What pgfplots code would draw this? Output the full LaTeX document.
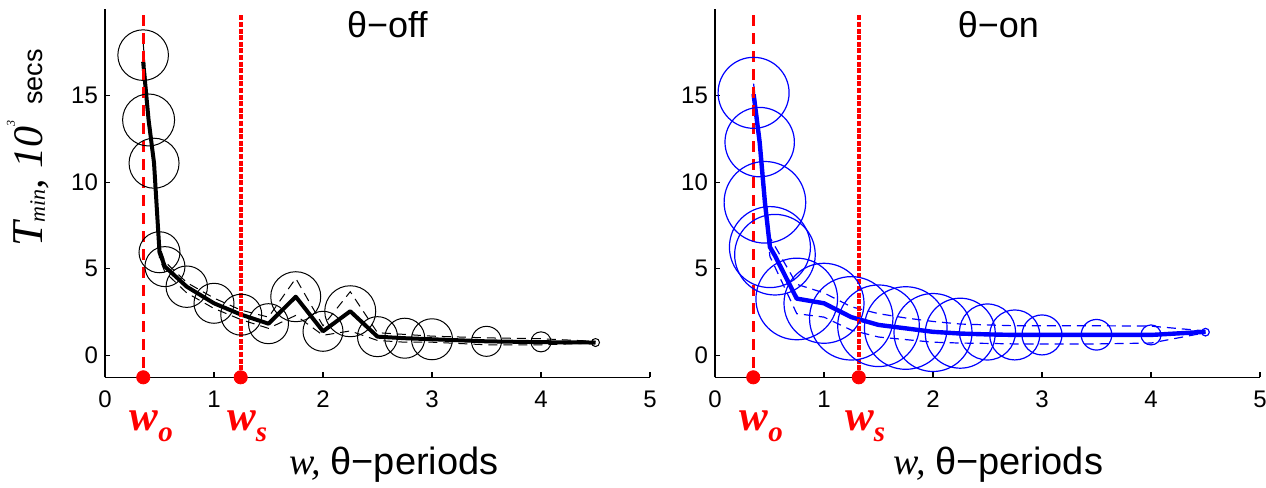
\documentclass[border=0pt]{standalone}
\usepackage{fontspec}
\setmainfont{Liberation Sans}
\newfontfamily\tnr{Liberation Serif}
\usepackage{pgfplots}
\pgfplotsset{compat=1.18}
\usepackage{pgfplotstable}

% theta-off: circle centres and radii (pt)
\pgfplotstableread{
x y r
0.35 17.35 12.65
0.40 13.60 13.0
0.45 11.10 12.5
0.50 5.95 10.25
0.55 5.12 10.0
0.75 3.96 10.35
1.00 3.00 10.0
1.25 2.34 10.25
1.50 1.82 10.0
1.75 3.38 12.5
2.00 1.38 10.0
2.25 2.54 12.75
2.50 1.07 10.0
2.75 0.98 10.0
3.00 0.92 10.25
3.50 0.80 7.5
4.00 0.77 5.0
4.50 0.73 2.0
}\offcirc
\pgfplotstableread{
x y up lo
0.35 16.97 18.1 16.5
0.40 13.60 14.0 13.2
0.45 11.10 11.5 10.7
0.50 5.95 6.3 5.6
0.55 5.12 5.4 4.8
0.75 3.96 4.2 3.6
1.00 3.00 3.3 2.7
1.25 2.34 2.6 2.05
1.50 1.82 2.2 1.55
1.75 3.38 4.44 2.3
2.00 1.38 1.7 1.15
2.25 2.54 3.67 1.4
2.50 1.07 1.3 0.85
2.75 0.98 1.2 0.75
3.00 0.92 1.1 0.75
3.50 0.80 1.0 0.6
4.00 0.75 0.95 0.6
4.50 0.73 0.8 0.7
}\offline
% theta-on
\pgfplotstableread{
x y r
0.354 15.17 17.75
0.41 12.32 17.35
0.458 8.84 20.4
0.504 6.25 20.25
0.55 5.81 20.15
0.75 3.25 20.4
1.00 3.00 20.0
1.25 2.13 20.85
1.50 1.70 20.4
1.75 1.57 20.65
2.00 1.31 19.5
2.25 1.27 17.5
2.50 1.34 14.0
2.75 1.17 12.5
3.00 1.17 10.0
3.50 1.18 7.65
4.00 1.17 5.0
4.50 1.33 1.9
}\oncirc
\pgfplotstableread{
x y up lo
0.354 15.10 15.7 14.6
0.41 12.30 12.8 11.8
0.458 8.84 9.3 8.4
0.504 6.25 6.8 5.7
0.55 5.75 6.3 5.1
0.75 3.27 4.1 2.4
1.00 3.00 3.6 2.2
1.25 2.20 2.8 1.45
1.50 1.75 2.4 1.05
1.75 1.55 2.15 0.9
2.00 1.35 1.95 0.75
2.25 1.25 1.8 0.7
2.50 1.20 1.75 0.68
2.75 1.17 1.7 0.65
3.00 1.17 1.7 0.65
3.50 1.17 1.7 0.65
4.00 1.17 1.68 0.7
4.50 1.35 1.4 1.3
}\online

\pgfplotsset{
  myaxis/.style={
    scale only axis, width=272.5pt, height=184pt,
    anchor=south west,
    xmin=0, xmax=5, ymin=-1.28, ymax=20,
    axis x line*=bottom, axis y line*=left,
    axis line style={-, line width=0.6pt},
    xtick={0,1,2,3,4,5}, ytick={0,5,10,15},
    tick align=inside, major tick length=2.5pt,
    tick style={line width=0.6pt, black},
    /pgf/number format/assume math mode=true,
    tick label style={font=\fontsize{12}{12}\selectfont},
    xticklabel style={yshift=-3.3pt},
    clip=false,
  },
  circ/.style={scatter, only marks, mark=o,
    scatter/use mapped color={draw=#1},
    visualization depends on={\thisrow{r}\as\rr},
    scatter/@pre marker code/.append style={/tikz/mark size=\rr pt}},
  wodash/.style={red, line width=1.5pt, dash pattern=on 5.5pt off 3.5pt},
  wsdot/.style={red, line width=1.9pt, dash pattern=on 2.5pt off 0.8pt},
}

\newcommand{\wlab}[1]{{\tnr\bfseries\itshape\fontsize{21.5}{21.5}\selectfont w\raisebox{-5.5pt}{\fontsize{14.5}{14.5}\selectfont #1}}}

\begin{document}
\begin{tikzpicture}
\useasboundingbox (0,0) rectangle (633pt,244pt);
% ---------------- theta-off
\begin{axis}[myaxis, at={(52.5pt,55.35pt)}]
\addplot[circ=black, line width=0.5pt] table[x=x,y=y]{\offcirc};
\addplot[black, line width=0.5pt, dash pattern=on 4.5pt off 3pt] table[x=x,y=up]{\offline};
\addplot[black, line width=0.5pt, dash pattern=on 4.5pt off 3pt] table[x=x,y=lo]{\offline};
\addplot[black, line width=2pt, line join=round] table[x=x,y=y]{\offline};
\addplot[wodash] coordinates {(0.351,19.65) (0.351,-1.28)};
\addplot[wsdot] coordinates {(1.245,19.65) (1.245,-1.28)};
\addplot[red, only marks, mark=*, mark size=3.3pt] coordinates {(0.351,-1.28) (1.245,-1.28)};
\node[anchor=base west, inner sep=0, xshift=-7pt, text=red] at (axis cs:0.351,-4.33) {\wlab{o}};
\node[anchor=base west, inner sep=0, xshift=-7pt, text=red] at (axis cs:1.245,-4.33) {\wlab{s}};
\node[anchor=base, inner sep=0] at (axis cs:2.65,-6.92) {{\tnr\itshape\fontsize{19}{19}\selectfont w, }{\fontsize{19}{19}\selectfont θ−periods}};
\node[inner sep=0] at (axis cs:2.59,19.14) {\fontsize{18}{18}\selectfont θ−off};
\node[rotate=90, anchor=base, inner sep=0] at (axis cs:-0.569,11.98) {{\tnr\itshape\fontsize{22}{22}\selectfont T}{\tnr\itshape\fontsize{11}{11}\selectfont\raisebox{-1pt}{min}}{\tnr\itshape\fontsize{21}{21}\selectfont , 10}\raisebox{14pt}{\tnr\itshape\fontsize{6}{6}\selectfont 3}\hspace{8pt}{\fontsize{13.5}{13.5}\selectfont secs}};
\end{axis}
% ---------------- theta-on
\begin{axis}[myaxis, at={(357.5pt,55.35pt)}]
\addplot[circ=blue, line width=0.6pt] table[x=x,y=y]{\oncirc};
\addplot[blue, line width=0.6pt, dash pattern=on 4.5pt off 3pt] table[x=x,y=up]{\online};
\addplot[blue, line width=0.6pt, dash pattern=on 4.5pt off 3pt] table[x=x,y=lo]{\online};
\addplot[blue, line width=2.2pt, line join=round] table[x=x,y=y]{\online};
\addplot[wodash] coordinates {(0.351,19.65) (0.351,-1.28)};
\addplot[wsdot] coordinates {(1.319,19.65) (1.319,-1.28)};
\addplot[red, only marks, mark=*, mark size=3.3pt] coordinates {(0.351,-1.28) (1.319,-1.28)};
\node[anchor=base west, inner sep=0, xshift=-7pt, text=red] at (axis cs:0.351,-4.33) {\wlab{o}};
\node[anchor=base west, inner sep=0, xshift=-7pt, text=red] at (axis cs:1.319,-4.33) {\wlab{s}};
\node[anchor=base, inner sep=0] at (axis cs:2.6,-6.92) {{\tnr\itshape\fontsize{19}{19}\selectfont w, }{\fontsize{19}{19}\selectfont θ−periods}};
\node[inner sep=0] at (axis cs:2.6,19.14) {\fontsize{18}{18}\selectfont θ−on};
\end{axis}
\end{tikzpicture}
\end{document}
